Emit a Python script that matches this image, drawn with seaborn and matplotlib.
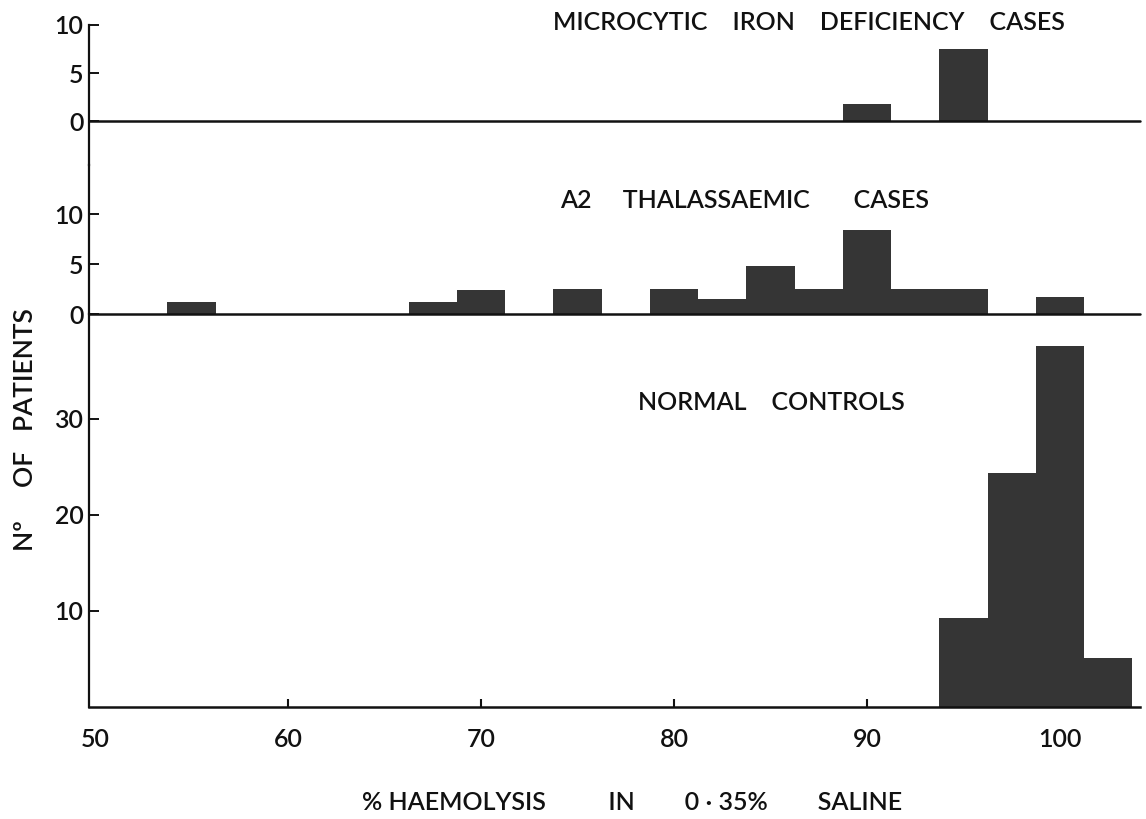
import matplotlib
matplotlib.use("Agg")
import matplotlib.pyplot as plt
import seaborn as sns

# Class centres (% haemolysis) and number of patients in each class
iron_centres = [90.0, 95.0]
iron_counts = [1.8, 7.5]

thal_centres = [55.0, 67.5, 70.0, 75.0, 80.0, 82.5, 85.0, 87.5, 90.0, 92.5, 95.0, 100.0]
thal_counts = [1.2, 1.2, 2.4, 2.5, 2.5, 1.5, 4.8, 2.5, 8.4, 2.5, 2.5, 1.7]

normal_centres = [95.0, 97.5, 100.0, 102.5]
normal_counts = [9.3, 24.4, 37.6, 5.1]

x_ticks = [50, 60, 70, 80, 90, 100]
x_tick_marks = [60, 70, 80, 90]
top_yticks = [0, 5, 10]
mid_yticks = [0, 5, 10]
bottom_yticks = [10, 20, 30]

panel_titles = ["MICROCYTIC    IRON    DEFICIENCY    CASES",
                "A2     THALASSAEMIC       CASES",
                "NORMAL    CONTROLS"]
x_label = "% HAEMOLYSIS          IN        0 · 35%        SALINE"
y_label = "Nº     OF   PATIENTS"

BIN_WIDTH = 2.5
BIN_RANGE = (48.75, 103.75)
BAR = "#353535"
INK = "#111111"
WEIGHT = "semibold"

sns.set_style("white")
plt.rcParams["font.family"] = ["Lato", "DejaVu Sans"]

W, H = 1146, 819
fig = plt.figure(figsize=(W / 100, H / 100), dpi=100)


def frac_rect(left_px, top_px, right_px, bottom_px):
    return [left_px / W, 1 - bottom_px / H, (right_px - left_px) / W,
            (bottom_px - top_px) / H]


XLIM = (49.69, 104.14)
ax_top = fig.add_axes(frac_rect(89, 25, 1140, 165))
ax_mid = fig.add_axes(frac_rect(89, 165, 1140, 314))
ax_bot = fig.add_axes(frac_rect(89, 314, 1140, 707))

panels = [
    (ax_top, iron_centres, iron_counts, (-4.58, 10), top_yticks),
    (ax_mid, thal_centres, thal_counts, (0, 14.9), mid_yticks),
    (ax_bot, normal_centres, normal_counts, (0, 40.9), bottom_yticks),
]

for ax, centres, counts, ylim, yticks in panels:
    sns.histplot(x=centres, weights=counts, binwidth=BIN_WIDTH,
                 binrange=BIN_RANGE, ax=ax, color=BAR, alpha=1,
                 linewidth=0, edgecolor=BAR)
    ax.set_xlim(*XLIM)
    ax.set_ylim(*ylim)
    ax.set_yticks(yticks)
    ax.set_yticklabels([str(t) for t in yticks], fontweight=WEIGHT)
    ax.set_xlabel("")
    ax.set_ylabel("")
    ax.patch.set_alpha(0)
    for side in ("top", "right"):
        ax.spines[side].set_visible(False)
    ax.spines["left"].set_color(INK)
    ax.spines["left"].set_linewidth(1.6)
    ax.tick_params(axis="y", direction="in", length=7, width=1.4,
                   colors=INK, labelsize=18, pad=4, left=True)

# Top and middle panels: zero baseline across the full width, no x axis
for ax in (ax_top, ax_mid):
    ax.spines["bottom"].set_visible(False)
    ax.set_xticks([])
    ax.axhline(0, color=INK, lw=1.8, clip_on=False, zorder=3)

# Bottom panel: labels on every decade, short inward marks on the inner ones
ax_bot.spines["bottom"].set_color(INK)
ax_bot.spines["bottom"].set_linewidth(1.8)
ax_bot.set_xticks(x_ticks)
ax_bot.set_xticklabels([str(t) for t in x_ticks], fontweight=WEIGHT)
ax_bot.tick_params(axis="x", which="major", direction="in", length=0,
                   colors=INK, labelsize=18, pad=15, bottom=True)
for xm in x_tick_marks:
    ax_bot.plot([xm, xm], [0, 0.8], color=INK, lw=1.5, solid_capstyle="butt",
                zorder=3)

# Panel headings
title_pos = [(553, 22), (560, 200), (638, 403)]
for text, (px, py) in zip(panel_titles, title_pos):
    fig.text(px / W, 1 - py / H, text, ha="left", va="center",
             fontsize=18, fontweight=WEIGHT, color=INK)

fig.text(26 / W, 1 - 430 / H, y_label, rotation=90, ha="center",
         va="center", fontsize=19, fontweight=WEIGHT, color=INK)
fig.text(632 / W, 1 - 803 / H, x_label, ha="center", va="center",
         fontsize=18, fontweight=WEIGHT, color=INK)

fig.savefig("out.png", dpi=100, facecolor="white")
